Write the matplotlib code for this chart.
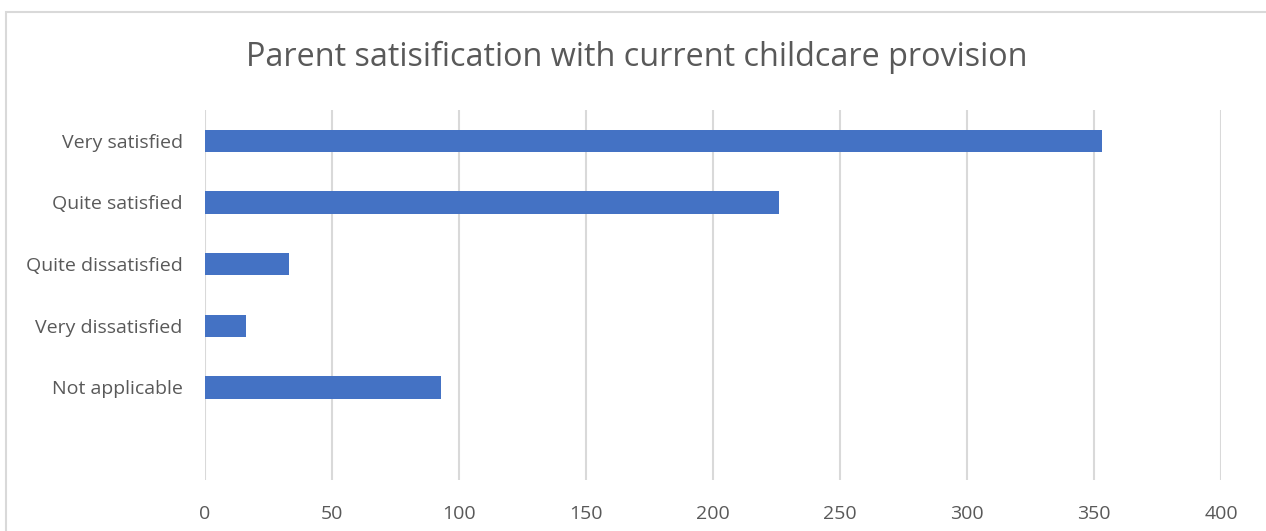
import matplotlib.pyplot as plt
from matplotlib.patches import Rectangle

categories = ['Very satisfied', 'Quite satisfied', 'Quite dissatisfied',
              'Very dissatisfied', 'Not applicable', '']
values = [353, 226, 33, 16, 93, 0]
xticks = [0, 50, 100, 150, 200, 250, 300, 350, 400]

plt.rcParams['font.family'] = ['Open Sans', 'DejaVu Sans']
grey = '#595959'

fig = plt.figure(figsize=(12.66, 5.31), dpi=100)
ax = fig.add_axes([205 / 1266, 1 - 480 / 531, (1221 - 205) / 1266, 370 / 531])

ypos = list(range(len(categories)))
ax.barh(ypos, values, height=0.36, color='#4472C4', zorder=3)
ax.set_yticks(ypos[:-1])
ax.set_yticklabels(categories[:-1], color=grey, fontsize=14)
ax.set_ylim(len(categories) - 0.5, -0.5)

ax.set_xlim(0, 400)
ax.set_xticks(xticks)
ax.set_xticklabels([str(t) for t in xticks], color=grey, fontsize=14)
ax.tick_params(axis='both', length=0)
ax.tick_params(axis='x', pad=18)
ax.tick_params(axis='y', pad=16)
ax.grid(axis='x', color='#d9d9d9', linewidth=1.5, zorder=0)
for s in ax.spines.values():
    s.set_visible(False)

fig.text(637 / 1266, 1 - 57 / 531, 'Parent satisification with current childcare provision',
         ha='center', va='center', fontsize=23.3, color=grey)

fig.add_artist(Rectangle((6 / 1266, -0.1), 1.1, 0.1 + 1 - 12 / 531,
                         transform=fig.transFigure, fill=False,
                         edgecolor='#d9d9d9', linewidth=1.5))

fig.savefig('out.png', dpi=100)
